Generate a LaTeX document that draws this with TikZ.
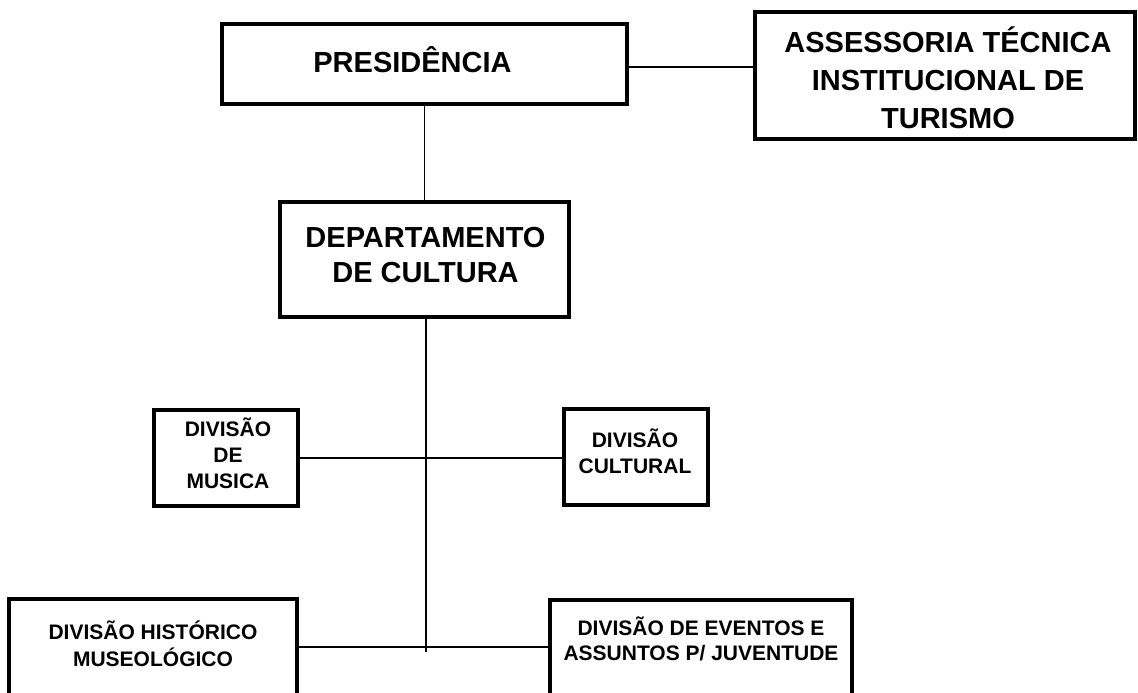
\documentclass[tikz,border=0pt]{standalone}
\usepackage{fontspec}
\setmainfont{Liberation Sans}
\usetikzlibrary{calc}
\tikzset{
  box/.style={draw, line width=3.6pt, rectangle, inner sep=0pt, outer sep=0pt},
  conn/.style={draw, line width=1.8pt},
  bigtxt/.style={align=center, anchor=base, inner sep=0pt, font=\fontsize{29}{38}\selectfont\bfseries},
  smalltxt/.style={align=center, anchor=base, inner sep=0pt, font=\fontsize{21}{26}\selectfont\bfseries}
}
\begin{document}
\begin{tikzpicture}[x=1pt,y=-1pt]
\useasboundingbox (0,0) rectangle (1138,693);
\clip (0,0) rectangle (1138,693);
% boxes
\node[box, minimum width=405pt, minimum height=80pt] (pres) at (424.5,64) {};
\node[box, minimum width=380pt, minimum height=127pt] (asse) at (945,75.5) {};
\node[box, minimum width=289pt, minimum height=115pt] (dep) at (424.5,259.5) {};
\node[box, minimum width=144pt, minimum height=96pt] (mus) at (226,458) {};
\node[box, minimum width=144pt, minimum height=96pt] (cult) at (636,457) {};
\node[box, minimum width=288pt, minimum height=140pt] (hist) at (153,669) {};
\node[box, minimum width=302pt, minimum height=140pt] (even) at (701,670) {};
% texts (base anchor = baseline of the last line)
\node[bigtxt] (presT) at (412.5,72.4) {PRESIDÊNCIA};
\node[bigtxt] (asseT) at (948,128.4) {ASSESSORIA TÉCNICA\\INSTITUCIONAL DE\\TURISMO};
\node[bigtxt, font=\fontsize{29}{35}\selectfont\bfseries] (depT) at (425.5,282.4) {DEPARTAMENTO\\DE CULTURA};
\node[smalltxt] (musT) at (228,488.5) {DIVISÃO\\DE\\MUSICA};
\node[smalltxt] (cultT) at (635,473.5) {DIVISÃO\\CULTURAL};
\node[smalltxt, font=\fontsize{21}{27}\selectfont\bfseries] (histT) at (153,666.5) {DIVISÃO HISTÓRICO\\MUSEOLÓGICO};
\node[smalltxt, font=\fontsize{21}{25}\selectfont\bfseries] (evenT) at (701,660.5) {DIVISÃO DE EVENTOS E\\ASSUNTOS P/ JUVENTUDE};
% connectors
\coordinate (trunkend) at (426,652);
\coordinate (lowj) at (426,647);
\draw[conn] ($(pres.east)+(0,3)$) -- ($(pres.east -| asse.west)+(0,3)$);
\draw[conn] (pres.south) -- (pres.south |- dep.north);
\draw[conn] (dep.south -| trunkend) -- (trunkend);
\draw[conn] (mus.east) -- (mus.east -| cult.west);
\draw[conn] (lowj -| hist.east) -- (lowj -| even.west);
\end{tikzpicture}
\end{document}
